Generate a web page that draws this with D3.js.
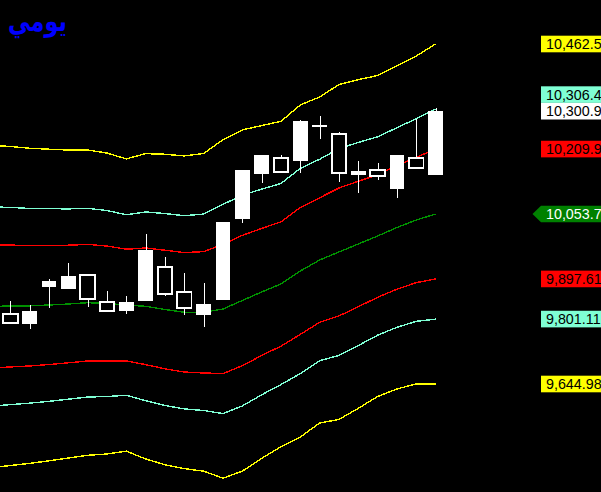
<!DOCTYPE html>
<html><head><meta charset="utf-8">
<script src="https://cdn.jsdelivr.net/npm/d3@7"></script>
<style>html,body{margin:0;padding:0;background:#000;overflow:hidden}</style>
</head><body>
<svg id="chart" width="601" height="492"></svg>
<script>
// ---- data ----
const title = "يومي";
const candleIndex = d3.range(0, 23);
const open  = [9813.3, 9790.0, 9878.2, 9874.1, 9906.3, 9841.4, 9821.2, 9844.5, 9925.6, 9865.5, 9810.9, 9846.9, 10041.7, 10150.6, 10187.7, 10181.2, 10262.2, 10246.1, 10148.2, 10159.5, 10113.8, 10188.4, 10148.2];
const high  = [9844.5, 9834.2, 9897.4, 9935.2, 9906.3, 9867.9, 9855.8, 10005.6, 9950.3, 9911.1, 9887.1, 10034.5, 10159.5, 10195.6, 10195.6, 10279.8, 10289.4, 10250.9, 10181.2, 10177.1, 10195.6, 10281.4, 10308.6];
const low   = [9789.2, 9777.2, 9828.4, 9874.1, 9830.8, 9821.2, 9814.0, 9844.5, 9856.6, 9810.9, 9782.7, 9846.9, 10032.8, 10129.0, 10155.4, 10153.0, 10234.8, 10130.7, 10104.9, 10135.5, 10092.2, 10165.1, 10148.2];
const close = [9792.4, 9820.5, 9892.6, 9904.7, 9848.6, 9821.2, 9841.4, 9967.2, 9862.1, 9827.0, 9837.3, 10034.5, 10159.5, 10195.6, 10155.4, 10278.1, 10268.5, 10153.0, 10157.9, 10145.8, 10195.6, 10165.1, 10300.9];

// band basis (index -1 .. 22)
const bandIndex = d3.range(-1, 23);
const bandMid = [9831.3, 9832.5, 9833.0, 9834.9, 9837.3, 9840.5, 9838.5, 9834.9, 9831.8, 9824.1, 9817.4, 9817.4, 9825.3, 9845.7, 9866.2, 9885.4, 9916.7, 9943.1, 9962.4, 9981.6, 10000.8, 10021.3, 10039.3, 10053.7];
const bandDev = [148.1, 146.5, 144.7, 143.1, 141.4, 140.2, 138.2, 134.2, 140.2, 142.6, 143.6, 145.9, 155.4, 156.7, 152.8, 149.4, 152.5, 149.7, 153.8, 150.9, 147.4, 148.3, 150.6, 156.2];
const bandFactors = [2.618, 1.618, 1, 0, -1, -1.618, -2.618];
const bandColors  = ["#ffff00", "#7fffd4", "#ff0000", "#009000", "#ff0000", "#7fffd4", "#ffff00"];

// right-hand price labels
const labelValues = [10462.5, 10306.4, 10300.9, 10209.9, 10053.7, 9897.61, 9801.11, 9644.98];
const labelTexts  = ["10,462.5", "10,306.4", "10,300.9", "10,209.9", "10,053.7", "9,897.61", "9,801.11", "9,644.98"];
const labelFill   = ["#ffff00", "#7fffd4", "#ffffff", "#ff0000", "#008000", "#ff0000", "#7fffd4", "#ffff00"];
const labelInk    = ["#000", "#000", "#000", "#000", "#fff", "#000", "#000", "#000"];
const labelPriority = [0, 0, 1, 0, 0, 0, 0, 0];

// ---- drawing ----
const svg = d3.select("#chart");
svg.append("rect").attr("width", 601).attr("height", 492).attr("fill", "#000");

const x = d3.scaleLinear().domain([0, 22]).range([10.3, 435.6]);
const y = d3.scaleLinear().domain([9644.98, 10462.5]).range([384, 44]);
const bodyW = 14.6;

// bands
const g = svg.append("g");
bandFactors.forEach((k, bi) => {
  const pts = bandIndex.map((idx, j) => [x(idx), y(bandMid[j] + k * bandDev[j])]);
  g.append("path")
    .attr("d", d3.line()(pts))
    .attr("fill", "none")
    .attr("stroke", bandColors[bi])
    .attr("stroke-width", 1.4)
    .attr("shape-rendering", "crispEdges");
});

// candles
const candles = candleIndex.map(i => ({i, o: open[i], h: high[i], l: low[i], c: close[i]}));
const cg = svg.append("g").attr("shape-rendering", "crispEdges");
cg.selectAll("line.wick").data(candles).join("line")
  .attr("x1", d => Math.round(x(d.i)) + 0.5).attr("x2", d => Math.round(x(d.i)) + 0.5)
  .attr("y1", d => y(d.h)).attr("y2", d => y(d.l))
  .attr("stroke", "#fff").attr("stroke-width", 1.6);
cg.selectAll("rect.body").data(candles).join("rect")
  .attr("x", d => x(d.i) - bodyW / 2)
  .attr("width", bodyW)
  .attr("y", d => y(Math.max(d.o, d.c)))
  .attr("height", d => Math.max(1.5, Math.abs(y(d.o) - y(d.c))))
  .attr("fill", d => d.c >= d.o ? "#fff" : "#000")
  .attr("stroke", "#fff")
  .attr("stroke-width", d => d.c >= d.o ? 0 : 1.8);

// labels with simple collision handling
const boxH = 16.6, boxX = 541;
const labels = labelValues.map((v, k) => ({v, k, cy: y(v)}));
const placed = [];
labels.slice().sort((a, b) => labelPriority[b.k] - labelPriority[a.k]).forEach(L => {
  let cy = L.cy;
  let moved = true;
  while (moved) {
    moved = false;
    for (const P of placed) {
      if (Math.abs(P.cy - cy) < boxH) { cy = P.cy - boxH; moved = true; }
    }
  }
  L.cy = cy;
  placed.push(L);
});
const lg = svg.append("g");
labels.forEach(L => {
  const top = L.cy - boxH / 2;
  if (labelTexts[L.k] === "10,053.7") {
    lg.append("path")
      .attr("d", `M${boxX - 8.5},${L.cy} L${boxX},${top} L601,${top} L601,${top + boxH} L${boxX},${top + boxH} Z`)
      .attr("fill", labelFill[L.k]);
  } else {
    lg.append("rect").attr("x", boxX).attr("y", top).attr("width", 601 - boxX).attr("height", boxH)
      .attr("fill", labelFill[L.k]);
  }
  lg.append("text").attr("x", boxX + 5).attr("y", L.cy + 5.2)
    .attr("font-family", "Liberation Sans, Arial, sans-serif").attr("font-size", 14.3)
    .attr("fill", labelInk[L.k]).text(labelTexts[L.k]);
});

// title
svg.append("text").attr("transform", "translate(8,31) scale(0.86,1.12)")
  .attr("font-family", "DejaVu Sans, sans-serif").attr("font-weight", "bold").attr("font-size", 26)
  .attr("fill", "#0000ff").text(title);
</script>
</body></html>
